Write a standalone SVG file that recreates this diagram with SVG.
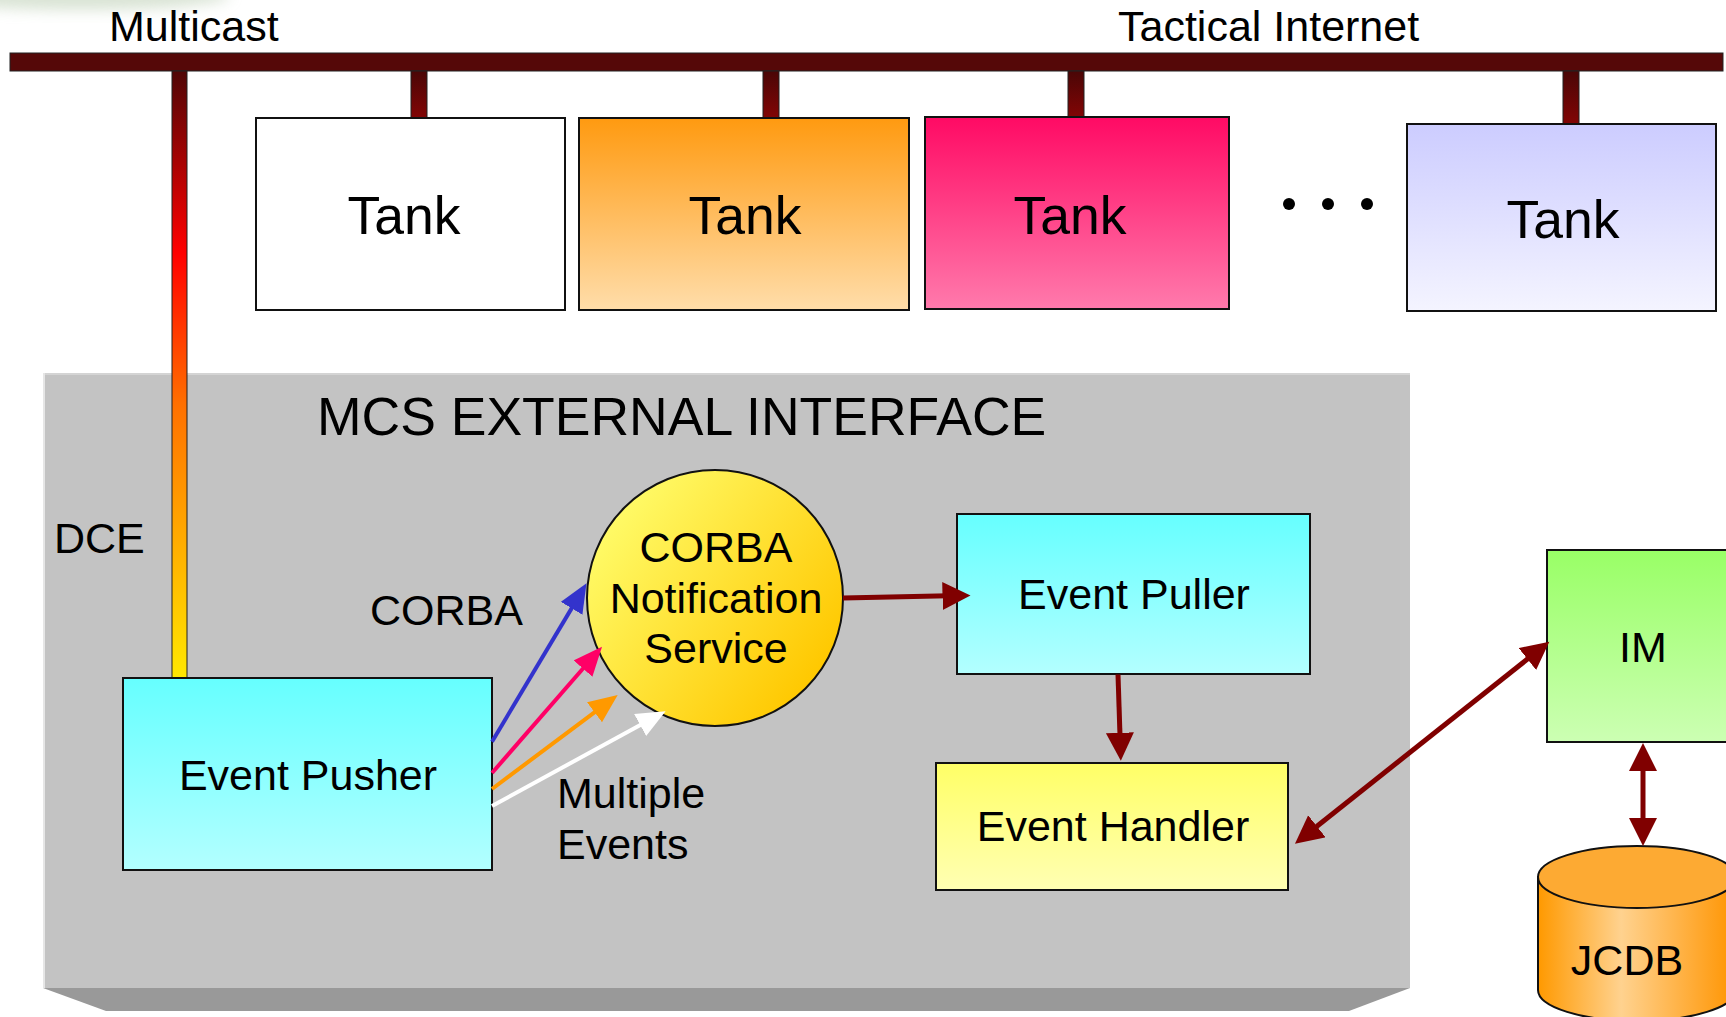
<svg xmlns="http://www.w3.org/2000/svg" width="1726" height="1017" viewBox="0 0 1726 1017">
  <defs>
    <style>
      text { font-family: "Liberation Sans", Arial, sans-serif; fill: #000; }
      .lbl { font-size: 43px; }
      .big { font-size: 53.5px; }
      .mid { text-anchor: middle; }
      .box { stroke: #111; stroke-width: 2; }
      .drop { fill: url(#dropGrad); stroke: #222; stroke-width: 1; }
      .link { fill: none; stroke-width: 4; }
      .maroon { fill: none; stroke: #800000; stroke-width: 5; }
    </style>
    <linearGradient id="dropGrad" x1="0" y1="0" x2="0" y2="1">
      <stop offset="0" stop-color="#4A0606"/>
      <stop offset="1" stop-color="#820505"/>
    </linearGradient>
    <linearGradient id="dceGrad" gradientUnits="userSpaceOnUse" x1="0" y1="71" x2="0" y2="678">
      <stop offset="0" stop-color="#500606"/>
      <stop offset="0.3" stop-color="#FF0000"/>
      <stop offset="0.55" stop-color="#FF7000"/>
      <stop offset="1" stop-color="#FFE800"/>
    </linearGradient>
    <linearGradient id="orangeGrad" x1="0" y1="0" x2="0" y2="1">
      <stop offset="0" stop-color="#FF9A10"/>
      <stop offset="1" stop-color="#FFDDAA"/>
    </linearGradient>
    <linearGradient id="pinkGrad" x1="0" y1="0" x2="0" y2="1">
      <stop offset="0" stop-color="#FF0A64"/>
      <stop offset="1" stop-color="#FF7AAC"/>
    </linearGradient>
    <linearGradient id="lavGrad" x1="0" y1="0" x2="0" y2="1">
      <stop offset="0" stop-color="#CCCCFF"/>
      <stop offset="1" stop-color="#F4F4FF"/>
    </linearGradient>
    <linearGradient id="cyanGrad" x1="0" y1="0" x2="0" y2="1">
      <stop offset="0" stop-color="#66FFFF"/>
      <stop offset="1" stop-color="#B3FFFF"/>
    </linearGradient>
    <linearGradient id="yellowGrad" x1="0" y1="0" x2="0" y2="1">
      <stop offset="0" stop-color="#FFFF66"/>
      <stop offset="1" stop-color="#FFFFB3"/>
    </linearGradient>
    <linearGradient id="greenGrad" x1="0" y1="0" x2="0" y2="1">
      <stop offset="0" stop-color="#99FF66"/>
      <stop offset="1" stop-color="#CCFFB3"/>
    </linearGradient>
    <linearGradient id="goldGrad" x1="0.1" y1="0.2" x2="0.9" y2="0.8">
      <stop offset="0" stop-color="#FFFA66"/>
      <stop offset="1" stop-color="#FFC800"/>
    </linearGradient>
    <linearGradient id="cylGrad" gradientUnits="userSpaceOnUse" x1="1538" y1="0" x2="1736" y2="0">
      <stop offset="0" stop-color="#FF9900"/>
      <stop offset="0.42" stop-color="#FFD28F"/>
      <stop offset="1" stop-color="#FF9400"/>
    </linearGradient>
    <filter id="haze" x="-50%" y="-50%" width="200%" height="200%">
      <feGaussianBlur stdDeviation="7"/>
    </filter>
    <marker id="hBlue" markerUnits="userSpaceOnUse" markerWidth="30" markerHeight="26" refX="20" refY="12.5" orient="auto">
      <path d="M0,0 L29,12.5 L0,25 Z" fill="#3333CC"/>
    </marker>
    <marker id="hPink" markerUnits="userSpaceOnUse" markerWidth="30" markerHeight="26" refX="20" refY="12.5" orient="auto">
      <path d="M0,0 L29,12.5 L0,25 Z" fill="#FF0066"/>
    </marker>
    <marker id="hOrange" markerUnits="userSpaceOnUse" markerWidth="30" markerHeight="26" refX="20" refY="12.5" orient="auto">
      <path d="M0,0 L29,12.5 L0,25 Z" fill="#FF9900"/>
    </marker>
    <marker id="hWhite" markerUnits="userSpaceOnUse" markerWidth="30" markerHeight="26" refX="20" refY="12.5" orient="auto">
      <path d="M0,0 L29,12.5 L0,25 Z" fill="#FFFFFF"/>
    </marker>
    <marker id="hMaroon" markerUnits="userSpaceOnUse" markerWidth="30" markerHeight="30" refX="18" refY="14" orient="auto-start-reverse">
      <path d="M0,0 L28,14 L0,28 Z" fill="#800000"/>
    </marker>
  </defs>

  <rect width="1726" height="1017" fill="#FFFFFF"/>
  <!-- soft smudge in the top-left corner -->
  <ellipse cx="80" cy="-4" rx="150" ry="14" fill="#C9D8C2" opacity="0.7" filter="url(#haze)"/>

  <!-- network bus and labels -->
  <g id="bus">
    <text class="lbl" x="109" y="41">Multicast</text>
    <text class="lbl" x="1118" y="41">Tactical Internet</text>
    <rect x="10" y="53" width="1713" height="18" fill="#550808" stroke="#222" stroke-width="1"/>
    <rect class="drop" x="411" y="71" width="16" height="47"/>
    <rect class="drop" x="763" y="71" width="16" height="47"/>
    <rect class="drop" x="1068" y="71" width="16" height="46"/>
    <rect class="drop" x="1563" y="71" width="16" height="53"/>
  </g>

  <!-- tanks -->
  <g id="tank1">
    <rect class="box" x="256" y="118" width="309" height="192" fill="#FFFFFF"/>
    <text class="big mid" x="404" y="234">Tank</text>
  </g>
  <g id="tank2">
    <rect class="box" x="579" y="118" width="330" height="192" fill="url(#orangeGrad)"/>
    <text class="big mid" x="745" y="234">Tank</text>
  </g>
  <g id="tank3">
    <rect class="box" x="925" y="117" width="304" height="192" fill="url(#pinkGrad)"/>
    <text class="big mid" x="1070" y="234">Tank</text>
  </g>
  <g id="ellipsis">
    <circle cx="1289" cy="204" r="6"/>
    <circle cx="1328" cy="204" r="6"/>
    <circle cx="1367" cy="204" r="6"/>
  </g>
  <g id="tank4">
    <rect class="box" x="1407" y="124" width="309" height="187" fill="url(#lavGrad)"/>
    <text class="big mid" x="1563" y="238">Tank</text>
  </g>

  <!-- external interface slab -->
  <g id="mcs-panel">
    <polygon points="43,988 1410,988 1349,1011 106,1011" fill="#999999"/>
    <rect x="43" y="373" width="1367" height="615" fill="#C3C3C3"/>
    <line x1="43" y1="374" x2="1410" y2="374" stroke="#D4D4D4" stroke-width="2"/>
    <line x1="44" y1="373" x2="44" y2="988" stroke="#E6E6E6" stroke-width="2"/>
    <text class="big" x="317" y="435">MCS EXTERNAL INTERFACE</text>
  </g>

  <!-- DCE drop from the bus -->
  <g id="dce">
    <rect x="172" y="71" width="15" height="607" fill="url(#dceGrad)" stroke="#222" stroke-width="1"/>
    <text class="lbl" x="54" y="553">DCE</text>
  </g>

  <g id="corba-label">
    <text class="lbl" x="370" y="625">CORBA</text>
  </g>

  <g id="notification-service">
    <circle cx="715" cy="598" r="128" fill="url(#goldGrad)" stroke="#111" stroke-width="2"/>
    <text class="lbl mid" x="716" y="562">CORBA</text>
    <text class="lbl mid" x="716" y="613">Notification</text>
    <text class="lbl mid" x="716" y="663">Service</text>
  </g>

  <g id="event-pusher">
    <rect class="box" x="123" y="678" width="369" height="192" fill="url(#cyanGrad)"/>
    <text class="lbl mid" x="308" y="790">Event Pusher</text>
  </g>

  <g id="multiple-events-label">
    <text class="lbl" x="557" y="808">Multiple</text>
    <text class="lbl" x="557" y="859">Events</text>
  </g>

  <g id="event-puller">
    <rect class="box" x="957" y="514" width="353" height="160" fill="url(#cyanGrad)"/>
    <text class="lbl mid" x="1134" y="609">Event Puller</text>
  </g>

  <g id="event-handler">
    <rect class="box" x="936" y="763" width="352" height="127" fill="url(#yellowGrad)"/>
    <text class="lbl mid" x="1113" y="841">Event Handler</text>
  </g>

  <g id="im">
    <rect class="box" x="1547" y="550" width="200" height="192" fill="url(#greenGrad)"/>
    <text class="lbl mid" x="1643" y="662">IM</text>
  </g>

  <g id="jcdb">
    <path d="M1538,877 L1538,990 A99,31 0 0 0 1736,990 L1736,877 Z" fill="url(#cylGrad)" stroke="#111" stroke-width="2"/>
    <ellipse cx="1637" cy="877" rx="99" ry="31" fill="#FDAA33" stroke="#111" stroke-width="2"/>
    <text class="lbl mid" x="1627" y="975">JCDB</text>
  </g>

  <!-- connectors -->
  <g id="connectors">
    <line class="link" x1="492" y1="741.7" x2="581.9" y2="591.1" stroke="#3333CC" marker-end="url(#hBlue)"/>
    <line class="link" x1="492" y1="773" x2="596.1" y2="653.5" stroke="#FF0066" marker-end="url(#hPink)"/>
    <line class="link" x1="492" y1="789" x2="610.5" y2="700.3" stroke="#FF9900" marker-end="url(#hOrange)"/>
    <line class="link" x1="492" y1="806" x2="657.7" y2="715.5" stroke="#FFFFFF" marker-end="url(#hWhite)"/>
    <line class="maroon" x1="843" y1="598" x2="960.5" y2="595.6" marker-end="url(#hMaroon)"/>
    <line class="maroon" x1="1118" y1="674.5" x2="1120.5" y2="750.8" marker-end="url(#hMaroon)"/>
    <line class="maroon" x1="1302.8" y1="837.5" x2="1541.5" y2="647.9" marker-start="url(#hMaroon)" marker-end="url(#hMaroon)"/>
    <line class="maroon" x1="1643" y1="753" x2="1643" y2="836" marker-start="url(#hMaroon)" marker-end="url(#hMaroon)"/>
  </g>
</svg>
